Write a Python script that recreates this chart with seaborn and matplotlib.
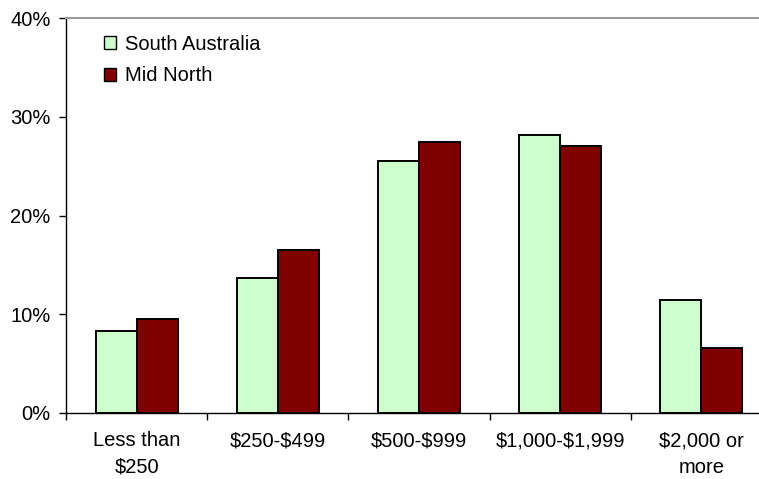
import matplotlib
matplotlib.use("Agg")
import matplotlib.pyplot as plt
import seaborn as sns
import pandas as pd
from matplotlib.patches import Patch

# Weekly household income, share of households
categories = ["Less than\n$250", "$250-$499", "$500-$999", "$1,000-$1,999", "$2,000 or\nmore"]
south_australia = [8.3, 13.7, 25.5, 28.2, 11.4]
mid_north = [9.5, 16.5, 27.4, 27.0, 6.6]
series_names = ["South Australia", "Mid North"]
colors = ["#CCFFCC", "#800000"]

df = pd.DataFrame({
    "Income": categories * 2,
    "Share": south_australia + mid_north,
    "Region": [series_names[0]] * len(categories) + [series_names[1]] * len(categories),
})

sns.set_style("white")
plt.rcParams["font.family"] = ["Liberation Sans", "DejaVu Sans"]
plt.rcParams["text.color"] = "black"
plt.rcParams["xtick.color"] = "black"
plt.rcParams["ytick.color"] = "black"
fs = 14.5

fig = plt.figure(figsize=(7.59, 4.79), dpi=100)
ax = fig.add_axes([66 / 759, 66 / 479, 706 / 759, 395 / 479])

sns.barplot(data=df, x="Income", y="Share", hue="Region", palette=colors, saturation=1,
            width=0.58, edgecolor="black", linewidth=1.4, ax=ax, legend=False)

ax.set_ylim(0, 40)
ax.set_xlim(-0.5, len(categories) - 0.5)
ax.set_yticks([0, 10, 20, 30, 40])
ax.set_yticklabels([f"{v}%" for v in [0, 10, 20, 30, 40]], fontsize=fs, color="black")
ax.tick_params(axis="y", direction="out", length=5, width=1, pad=6, color="black", left=True)

# category boundaries as ticks, names as minor labels
ax.set_xticks([i - 0.5 for i in range(len(categories) + 1)])
ax.set_xticklabels([])
ax.set_xticks(range(len(categories)), minor=True)
ax.set_xticklabels([c.replace("$", r"\$") for c in categories], minor=True, fontsize=fs,
                   linespacing=1.5, color="black")
ax.tick_params(axis="x", which="major", direction="out", length=5, width=1, color="black", bottom=True)
ax.tick_params(axis="x", which="minor", length=0, pad=13)

ax.set_xlabel("")
ax.set_ylabel("")

for side in ["left", "bottom"]:
    ax.spines[side].set_color("black")
    ax.spines[side].set_linewidth(1)
ax.spines["top"].set_color("#999999")
ax.spines["top"].set_linewidth(1.5)
ax.spines["right"].set_visible(False)

handles = [Patch(facecolor=c, edgecolor="black", linewidth=1) for c in colors]
leg = ax.legend(handles, series_names, loc="upper left", bbox_to_anchor=(0.028, 1.003),
                frameon=False, fontsize=fs, handlelength=0.6, handleheight=0.6,
                handletextpad=0.45, labelspacing=0.62)
for t in leg.get_texts():
    t.set_color("black")

fig.savefig("out.png", dpi=100)
